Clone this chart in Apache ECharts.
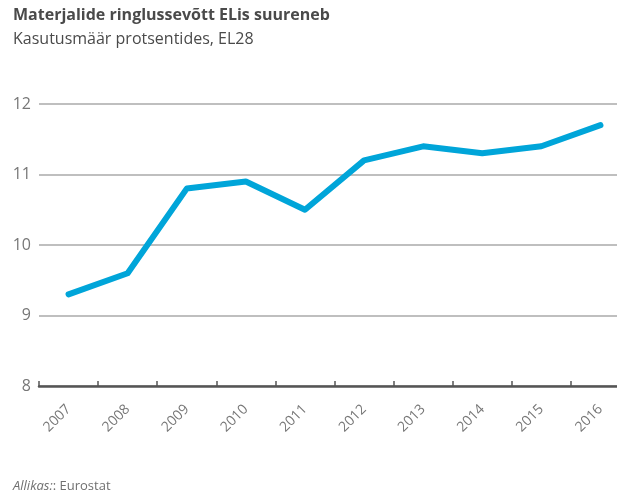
<!DOCTYPE html>
<html>
<head>
<meta charset="utf-8">
<script src="https://cdn.jsdelivr.net/npm/echarts@6/dist/echarts.min.js"></script>
<style>
  html, body { margin: 0; padding: 0; background: #fff; }
  #chart { width: 617px; height: 493px; }
</style>
</head>
<body>
<div id="chart"></div>
<script>
const years = ["2007", "2008", "2009", "2010", "2011", "2012", "2013", "2014", "2015", "2016"];
const usageRate = [9.3, 9.6, 10.8, 10.9, 10.5, 11.2, 11.4, 11.3, 11.4, 11.7];
const yTicks = [8, 9, 10, 11, 12];

const chart = echarts.init(document.getElementById("chart"));
const font = "'Open Sans', 'Noto Sans', sans-serif";

chart.setOption({
  animation: false,
  textStyle: { fontFamily: font },
  title: [
    {
      text: "Materjalide ringlussevõtt ELis suureneb",
      left: 8,
      top: 2,
      textStyle: { fontSize: 16, fontWeight: "bold", color: "#4a4a4a", fontFamily: font }
    },
    {
      text: "Kasutusmäär protsentides, EL28",
      left: 8,
      top: 26,
      textStyle: { fontSize: 16, fontWeight: "normal", color: "#4a4a4a", fontFamily: font }
    },
    {
      text: "{i|Allikas:}: Eurostat",
      left: 8,
      top: 475,
      textStyle: {
        fontSize: 13,
        fontWeight: "normal",
        color: "#707070",
        fontFamily: font,
        rich: { i: { fontStyle: "italic", fontSize: 13, color: "#707070", fontFamily: font } }
      }
    }
  ],
  grid: { left: 39, top: 104, width: 591, height: 282, outerBoundsMode: "none" },
  xAxis: {
    type: "category",
    data: years,
    boundaryGap: true,
    axisLine: { lineStyle: { color: "#555", width: 2.5 } },
    axisTick: { show: true, inside: true, length: 5, lineStyle: { color: "#555", width: 1.5 } },
    axisLabel: { rotate: 45, color: "#777", fontSize: 14, margin: 21, fontFamily: font }
  },
  yAxis: {
    type: "value",
    min: yTicks[0],
    max: yTicks[yTicks.length - 1],
    interval: 1,
    axisLine: { show: false },
    axisTick: { show: false },
    axisLabel: { color: "#777", fontSize: 16, margin: 8, fontFamily: font },
    splitLine: { lineStyle: { color: "#aaa", width: 1.5 } }
  },
  series: [
    {
      type: "line",
      data: usageRate,
      symbol: "none",
      lineStyle: { color: "#00a5d9", width: 6, cap: "round", join: "round" }
    }
  ]
});
</script>
</body>
</html>
